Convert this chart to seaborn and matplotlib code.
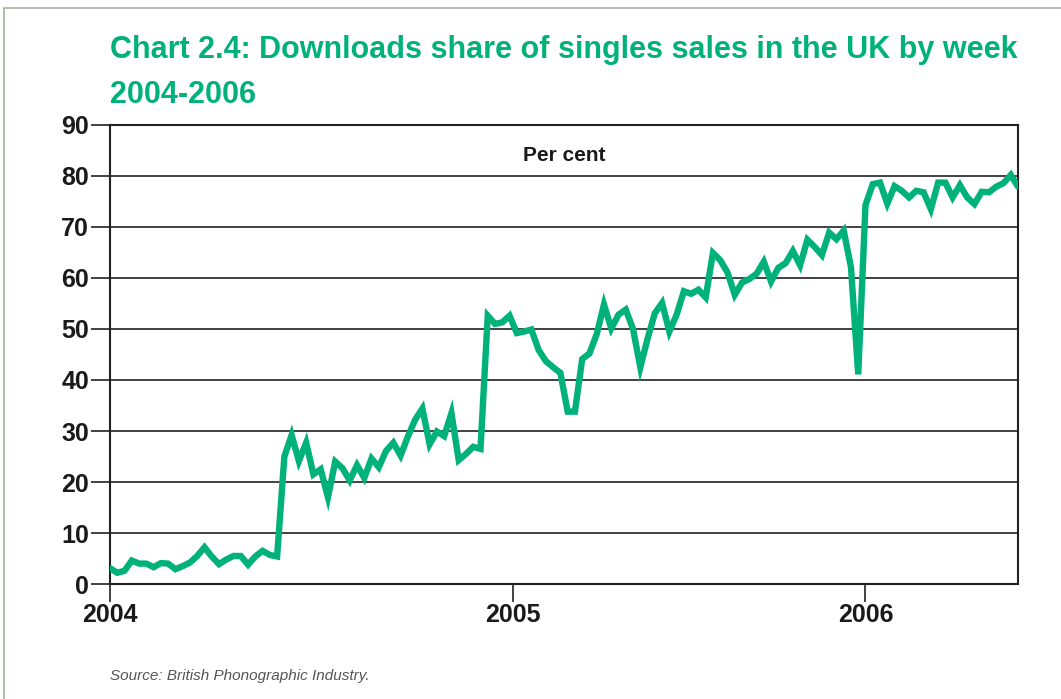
import numpy as np
import pandas as pd
import matplotlib.pyplot as plt
import seaborn as sns
from matplotlib.patches import Rectangle

# weekly downloads share of UK singles sales (per cent), Jan 2004 onwards
share_2004 = [
    3.1, 2.2, 2.6, 4.6, 4.0, 4.0, 3.3, 4.1, 4.0, 2.9,
    3.5, 4.2, 5.5, 7.2, 5.4, 3.9, 4.8, 5.5, 5.5, 3.8,
    5.4, 6.5, 5.7, 5.4, 25.0, 29.2, 24.1, 27.7, 21.5, 22.5,
    17.0, 24.0, 22.7, 20.3, 23.3, 20.8, 24.6, 22.9, 26.1, 27.7,
    25.2, 28.9, 32.2, 34.4, 27.4, 29.9, 29.0, 33.5, 24.3, 25.5,
    26.9, 26.5,
]
share_2005 = [
    52.6, 51.0, 51.3, 52.6, 49.2, 49.5, 49.9, 45.9, 43.7, 42.5,
    41.4, 33.8, 33.8, 44.1, 45.2, 49.0, 54.8, 50.1, 52.8, 53.8,
    50.0, 42.5, 48.1, 53.1, 55.1, 49.5, 52.8, 57.4, 56.9, 57.7,
    56.2, 64.9, 63.5, 61.1, 56.7, 59.1, 59.8, 60.8, 63.2, 59.3,
    62.0, 62.9, 65.3, 62.5, 67.5, 66.1, 64.5, 68.9, 67.6, 69.3,
    62.1, 41.1,
]
share_2006 = [
    74.3, 78.4, 78.7, 74.6, 78.0, 77.1, 75.8, 77.1, 76.8, 73.5,
    78.7, 78.7, 75.8, 78.2, 75.8, 74.5, 76.9, 76.8, 77.9, 78.6,
    80.2, 77.9,
]
year_labels = ["2004", "2005", "2006"]
year_ticks = [0, 55.5, 104]

GREEN = "#00b27a"

values = share_2004 + share_2005 + share_2006
df = pd.DataFrame({"week": np.arange(len(values)), "share": values})

sns.set_style("white")
plt.rcParams["font.family"] = ["Liberation Sans", "DejaVu Sans"]

fig = plt.figure(figsize=(10.61, 6.99), dpi=100)
ax = fig.add_axes([0.1037, 0.1645, 0.9595 - 0.1037, 0.8212 - 0.1645])

for v in range(10, 90, 10):
    ax.axhline(v, color="#333333", lw=1.3, zorder=1)

sns.lineplot(data=df, x="week", y="share", ax=ax, color=GREEN, lw=4.6,
             zorder=3, solid_joinstyle="miter")

ax.set_xlim(0, len(values) - 1)
ax.set_ylim(0, 90)
ax.set_yticks(range(0, 91, 10))
ax.set_xticks(year_ticks)
ax.set_xticklabels(year_labels)
ax.set_xlabel("")
ax.set_ylabel("")
for s in ax.spines.values():
    s.set_color("#222222")
    s.set_linewidth(1.5)
ax.tick_params(axis="y", left=True, length=14, width=1.3, color="#333333",
               pad=1, labelsize=18)
ax.tick_params(axis="x", bottom=True, length=13, width=1.3, color="#333333",
               pad=1, labelsize=18)
for lab in ax.get_xticklabels() + ax.get_yticklabels():
    lab.set_fontweight("bold")
    lab.set_color("#1a1a1a")

ax.text(0.5, 0.955, "Per cent", transform=ax.transAxes, ha="center",
        va="top", fontsize=15, fontweight="bold", color="#1a1a1a")

fig.text(110 / 1061, 1 - 35 / 699,
         "Chart 2.4: Downloads share of singles sales in the UK by week",
         ha="left", va="top", fontsize=22, fontweight="bold", color=GREEN)
fig.text(110 / 1061, 1 - 80 / 699, "2004-2006",
         ha="left", va="top", fontsize=22, fontweight="bold", color=GREEN)

fig.text(110 / 1061, 1 - 676 / 699, "Source: British Phonographic Industry.",
         ha="left", va="center", fontsize=11, style="italic", color="#555555")

fig.patches.append(Rectangle((4 / 1061, -0.05), 1.1, 1 - 8 / 699 + 0.05,
                             transform=fig.transFigure, fill=False,
                             edgecolor="#9fb59a", lw=1.2))

fig.savefig("out.png", dpi=100)
